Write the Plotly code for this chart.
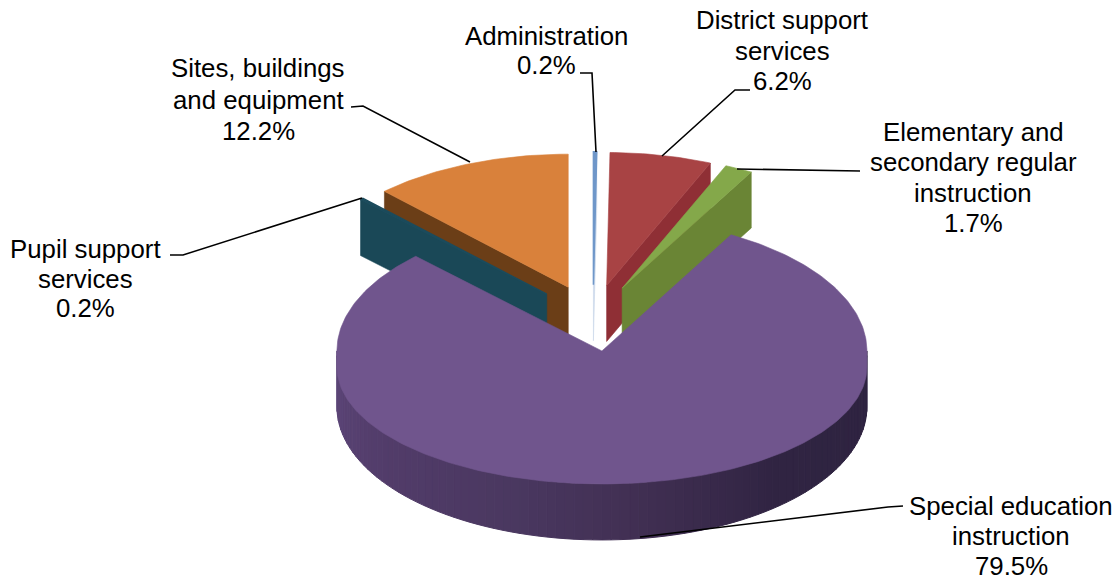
import math
import plotly.graph_objects as go

# ---- data ----
categories = ["Administration", "District support services",
              "Elementary and secondary regular instruction",
              "Special education instruction", "Pupil support services",
              "Sites, buildings and equipment"]
shares = [0.2, 6.2, 1.7, 79.5, 0.2, 12.2]

# ---- label text, wrapped as in the picture ----
label_lines = [["Administration"], ["District support", "services"],
               ["Elementary and", "secondary regular", "instruction"],
               ["Special education", "instruction"],
               ["Pupil support", "services"],
               ["Sites, buildings", "and equipment"]]

# ---- style ----
top_colors = ["#6f97c9", "#a84344", "#84a84a", "#70558d", "#1b4b5c", "#d9813b"]
wall_colors = ["#c9d7ea", "#8f2f35", "#6a8535", "#3d2e50", "#1a4857", "#6b3e17"]
purple_wall_stops = [(90, (46, 35, 64)), (140, (48, 36, 66)), (175, (66, 48, 84)),
                     (200, (74, 56, 96)), (235, (82, 60, 106)), (270, (92, 70, 120))]

# ---- layout of the projected pie (pixels) ----
CX, CY = 593, 318
RX, RY = 265, 133
EXPLODE = 0.25
DEPTH = 56
FRONT_SAG = 16
DRAW_ORDER = [5, 0, 1, 2, 4, 3]
FONT = "Liberation Sans, Arial, sans-serif"
FONT_SIZE = 25.8

# centre x, y of first line and line gap for each label
label_pos = [(546, 36, 29), (782, 20, 30.5), (973, 132, 30.3),
             (1011, 506, 30), (85, 249, 29.5), (258, 68, 31.5)]
# leader polylines
leaders = [[(596, 152), (592, 73), (580, 73)],
           [(662, 156), (735, 90), (750, 90)],
           [(737, 169), (860, 171)],
           [(640, 537), (888, 507), (903, 506)],
           [(362, 198), (183, 255), (170, 255)],
           [(470, 162), (363, 106), (351, 107)]]


def pt(ox, oy, deg, dz=0.0):
    r = math.radians(deg)
    return ox + RX * math.sin(r), oy - RY * math.cos(r) + dz


def top_pt(ox, oy, deg):
    """Rim of the top face: the near half sits lower and flatter, as in perspective."""
    r = math.radians(deg)
    c = math.cos(r)
    if c >= 0:
        return pt(ox, oy, deg)
    return ox + RX * math.sin(r), oy + FRONT_SAG + (RY - FRONT_SAG) * (-c)


def poly(fig, xy, color, width=0.6):
    fig.add_trace(go.Scatter(x=[p[0] for p in xy] + [xy[0][0]],
                             y=[p[1] for p in xy] + [xy[0][1]],
                             mode="lines", fill="toself", fillcolor=color,
                             line=dict(color=color, width=width),
                             hoverinfo="skip", showlegend=False))


def wall_color(deg):
    for (a0, c0), (a1, c1) in zip(purple_wall_stops, purple_wall_stops[1:]):
        if a0 <= deg <= a1:
            t = (deg - a0) / (a1 - a0)
            c = [round(u + (v - u) * t) for u, v in zip(c0, c1)]
            return "rgb(%d,%d,%d)" % tuple(c)
    return "rgb(%d,%d,%d)" % purple_wall_stops[-1][1]


total = sum(shares)
spans = []
run = 0.0
for s in shares:
    spans.append((run, run + s / total * 360))
    run += s / total * 360

fig = go.Figure()

for i in DRAW_ORDER:
    a0, a1 = spans[i]
    mid = math.radians((a0 + a1) / 2)
    ox = CX + EXPLODE * RX * math.sin(mid)
    oy = CY - EXPLODE * RY * math.cos(mid)
    # radial side walls
    for edge in (a0, a1):
        s = math.sin(math.radians(edge))
        if (edge == a0 and s < -0.01) or (edge == a1 and s > 0.001):
            p = pt(ox, oy, edge)
            poly(fig, [(ox, oy), p, (p[0], p[1] + DEPTH), (ox, oy + DEPTH)], wall_colors[i])
    # rounded front wall, in narrow bands for the shading
    lo, hi = max(a0, 90), min(a1, 270)
    if lo < hi:
        n = int((hi - lo) / 2)
        for k in range(n):
            b0 = lo + (hi - lo) * k / n
            b1 = lo + (hi - lo) * (k + 1) / n
            p0, p1 = pt(ox, oy, b0), pt(ox, oy, b1)
            poly(fig, [p0, p1, (p1[0], p1[1] + DEPTH), (p0[0], p0[1] + DEPTH)],
                 wall_color((b0 + b1) / 2), 1)
    # top face
    steps = max(2, int(a1 - a0))
    arc = [top_pt(ox, oy, a0 + (a1 - a0) * k / steps) for k in range(steps + 1)]
    poly(fig, [(ox, oy)] + arc, top_colors[i], 1.5 if a1 - a0 < 2 else 0.6)

for path in leaders:
    fig.add_trace(go.Scatter(x=[p[0] for p in path], y=[p[1] for p in path],
                             mode="lines", line=dict(color="#000000", width=1.6),
                             hoverinfo="skip", showlegend=False))

annotations = []
for lines, share, (lx, ly, gap) in zip(label_lines, shares, label_pos):
    for n, text in enumerate(lines + ["%.1f%%" % share]):
        annotations.append(dict(x=lx, y=ly + n * gap, xref="x", yref="y", text=text,
                                showarrow=False, xanchor="center", yanchor="middle",
                                font=dict(family=FONT, size=FONT_SIZE, color="#000000")))

fig.update_layout(width=1120, height=581, margin=dict(l=0, r=0, t=0, b=0),
                  paper_bgcolor="white", plot_bgcolor="white", showlegend=False,
                  annotations=annotations,
                  xaxis=dict(range=[0, 1120], visible=False, fixedrange=True),
                  yaxis=dict(range=[581, 0], visible=False, fixedrange=True))
fig.write_html("out.html", post_script="document.body.style.margin='0';",
               config=dict(displayModeBar=False))
